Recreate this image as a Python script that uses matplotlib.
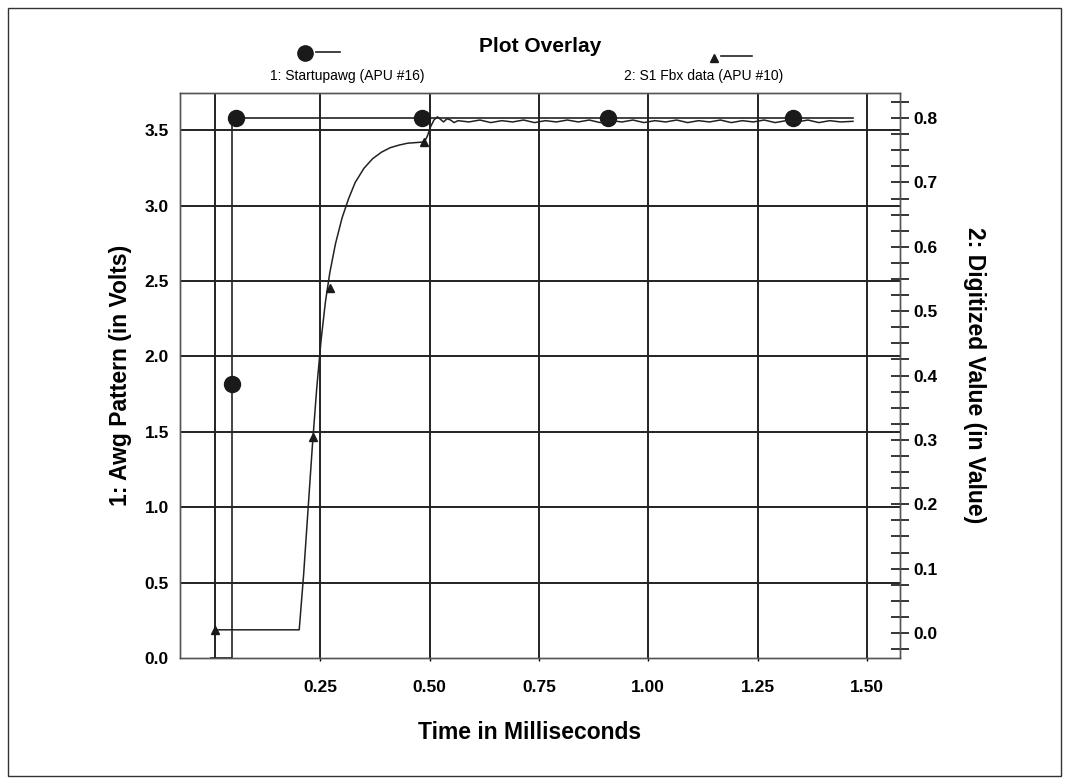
import matplotlib
matplotlib.use("Agg")
import matplotlib.pyplot as plt
from matplotlib.lines import Line2D
from matplotlib.patches import Rectangle

plt.rcParams['font.family'] = ['Liberation Sans', 'DejaVu Sans']

# series 1: Startupawg (left axis, volts)
awg_x = [0.0, 0.048, 0.048, 1.468]
awg_y = [0.0, 0.0, 3.58, 3.58]
awg_mark_x = [0.048, 0.057, 0.482, 0.907, 1.332]
awg_mark_y = [1.82, 3.58, 3.58, 3.58, 3.58]

fbx_x = [0.009, 0.202, 0.212, 0.222, 0.232, 0.242, 0.252, 0.262, 0.272, 0.285,
         0.30, 0.315, 0.33, 0.35, 0.37, 0.39, 0.41, 0.43, 0.45, 0.47, 0.488,
         0.495, 0.502, 0.51, 0.518, 0.525, 0.532, 0.54, 0.548, 0.556, 0.565,
         0.59, 0.615, 0.64, 0.665, 0.69, 0.715, 0.74, 0.765, 0.79, 0.815,
         0.84, 0.865, 0.89, 0.915, 0.94, 0.965, 0.99, 1.015, 1.04, 1.065,
         1.09, 1.115, 1.14, 1.165, 1.19, 1.215, 1.24, 1.265, 1.29, 1.315,
         1.34, 1.365, 1.39, 1.415, 1.44, 1.468]
fbx_y = [0.005, 0.005, 0.09, 0.19, 0.29, 0.38, 0.455, 0.515, 0.56, 0.605,
         0.645, 0.675, 0.70, 0.722, 0.737, 0.747, 0.754, 0.758, 0.761, 0.762, 0.763,
         0.772, 0.786, 0.797, 0.802, 0.798, 0.794, 0.799, 0.797, 0.793, 0.796,
         0.794, 0.797, 0.793, 0.796, 0.794, 0.797, 0.793, 0.796, 0.794, 0.797,
         0.794, 0.797, 0.793, 0.796, 0.794, 0.797, 0.793, 0.796, 0.794, 0.797,
         0.793, 0.796, 0.794, 0.797, 0.793, 0.796, 0.794, 0.797, 0.793, 0.796,
         0.794, 0.797, 0.793, 0.796, 0.794, 0.795]
fbx_mark_x = [0.009, 0.234, 0.273, 0.488]
fbx_mark_y = [0.005, 0.304, 0.536, 0.763]
fbx_start_x = 0.009

x_ticks = [0.25, 0.50, 0.75, 1.00, 1.25, 1.50]
left_ticks = [0.0, 0.5, 1.0, 1.5, 2.0, 2.5, 3.0, 3.5]
right_ticks = [0.0, 0.1, 0.2, 0.3, 0.4, 0.5, 0.6, 0.7, 0.8]
right_minor = [i * 0.025 - 0.025 for i in range(36)]

fig = plt.figure(figsize=(10.69, 7.84), dpi=100)
ax = fig.add_axes([0.1684, 0.1607, 0.6735, 0.7207])
ax2 = ax.twinx()

# grid drawn as plain lines
for t in x_ticks:
    ax.axvline(t, color='#222222', lw=1.4, zorder=1)
for t in left_ticks[1:]:
    ax.axhline(t, color='#222222', lw=1.4, zorder=1)
ax.axvline(fbx_start_x, color='#222222', lw=1.4, zorder=1)

ax.plot(awg_x, awg_y, color='#222222', lw=1.2, zorder=3)
ax.plot(awg_mark_x, awg_mark_y, 'o', color='#1a1a1a', ms=11.5, zorder=4)
ax2.plot(fbx_x, fbx_y, color='#222222', lw=1.1, zorder=3)
ax2.plot(fbx_mark_x, fbx_mark_y, '^', color='#1a1a1a', ms=6, zorder=4)

ax.set_xticks(x_ticks)
ax.set_xticklabels(['%.2f' % t for t in x_ticks])
ax.set_yticks(left_ticks)
ax.set_yticklabels(['%.1f' % t for t in left_ticks])
ax.tick_params(axis='x', length=2, width=1, pad=14, labelsize=12.5)
ax.tick_params(axis='y', length=0, pad=8, labelsize=12.5)
for lab in ax.get_xticklabels() + ax.get_yticklabels():
    lab.set_fontweight('bold')

ax2.set_yticks(right_ticks)
ax2.set_yticklabels(['%.1f' % t for t in right_ticks])
ax2.set_yticks(right_minor, minor=True)
ax2.tick_params(axis='y', which='both', direction='inout', length=13, width=1.1,
                pad=3, labelsize=12.5)
for lab in ax2.get_yticklabels():
    lab.set_fontweight('bold')

# limits after the ticks, so set_yticks cannot widen them
ax.set_xlim(-0.0705, 1.5755)
ax.set_ylim(0, 3.747)
ax2.set_ylim(-0.0388, 0.839)

for a in (ax, ax2):
    for s in a.spines.values():
        s.set_color('#555555')
        s.set_linewidth(1.0)

ax.set_xlabel('Time in Milliseconds', fontsize=16.5, fontweight='bold', va='center')
ax.xaxis.set_label_coords(0.486, -0.131)
ax.set_ylabel('1: Awg Pattern (in Volts)', fontsize=16.5, fontweight='bold',
              va='center')
ax.yaxis.set_label_coords(-0.083, 0.5)
ax2.set_ylabel('2: Digitized Value (in Value)', fontsize=16.5, fontweight='bold',
               rotation=270, va='center')
ax2.yaxis.set_label_coords(1.104, 0.5)

fig.text(540 / 1069, 1 - 46 / 784, 'Plot Overlay', fontsize=15, fontweight='bold',
         ha='center', va='center')

# legend entries: marker and short line above the label
fig.text(347 / 1069, 1 - 76 / 784, '1: Startupawg (APU #16)', fontsize=10,
         ha='center', va='center')
fig.text(704 / 1069, 1 - 76 / 784, '2: S1 Fbx data (APU #10)', fontsize=10,
         ha='center', va='center')
fig.add_artist(Line2D([305 / 1069], [1 - 53 / 784], marker='o', ms=11,
                      color='#1a1a1a', transform=fig.transFigure))
fig.add_artist(Line2D([316 / 1069, 340 / 1069], [1 - 52 / 784, 1 - 52 / 784],
                      color='#222222', lw=1.2, transform=fig.transFigure))
fig.add_artist(Line2D([714 / 1069], [1 - 58 / 784], marker='^', ms=6,
                      color='#1a1a1a', transform=fig.transFigure))
fig.add_artist(Line2D([721 / 1069, 752 / 1069], [1 - 56 / 784, 1 - 56 / 784],
                      color='#222222', lw=1.2, transform=fig.transFigure))

fig.add_artist(Rectangle((8 / 1069, 8 / 784), 1053 / 1069, 768 / 784,
                         transform=fig.transFigure, fill=False,
                         edgecolor='#333333', lw=1.0))

fig.savefig('out.png', dpi=100)
